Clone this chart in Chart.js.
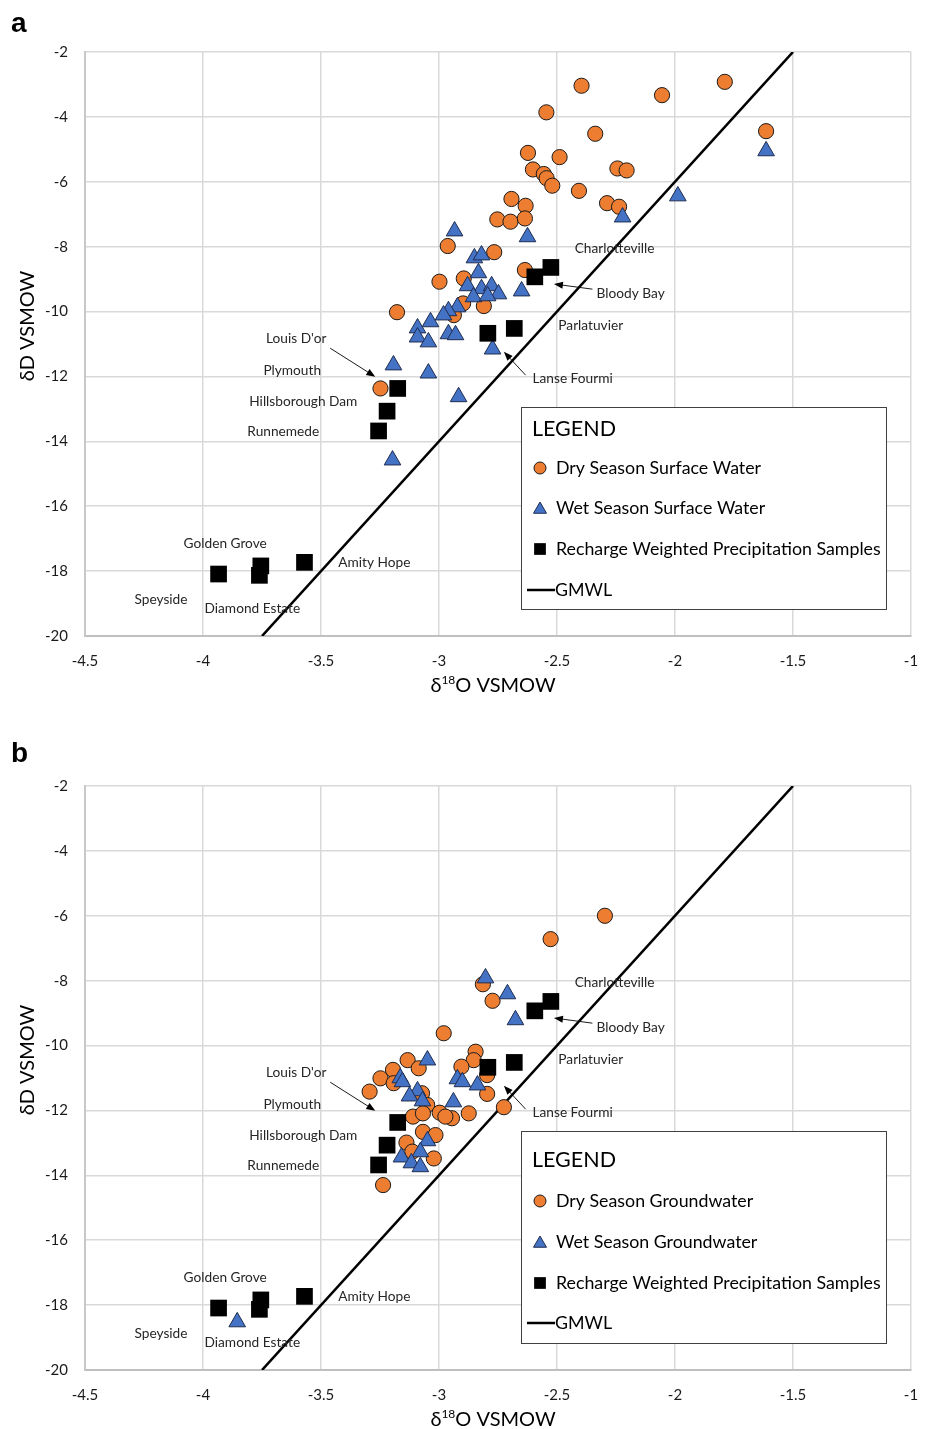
<!DOCTYPE html>
<html><head><meta charset="utf-8">
<script src="https://cdn.jsdelivr.net/npm/chart.js@4.4.1/dist/chart.umd.min.js"></script>
<style>
html,body{margin:0;padding:0;background:#fff;overflow:hidden;width:933px;height:1429px;}
.panel{position:absolute;left:0;width:933px;height:715px;}
.lbl{position:absolute;font:bold 28px "Liberation Sans",Arial,sans-serif;color:#000;line-height:1;}
</style></head><body>
<div class="panel" style="top:0"><canvas id="ca" width="933" height="715"></canvas></div>
<div class="panel" style="top:734px"><canvas id="cb" width="933" height="715"></canvas></div>
<div class="lbl" style="left:11px;top:9px">a</div>
<div class="lbl" style="left:11px;top:739px">b</div>
<script>
// ---------- DATA ----------
const xTickVals = [-4.5, -4, -3.5, -3, -2.5, -2, -1.5, -1];
const yTickVals = [-20, -18, -16, -14, -12, -10, -8, -6, -4, -2];

// Panel a: Dry season surface water
const dryAX = [-2.396,-1.789,-2.055,-2.545,-1.614,-2.338,-2.623,-2.489,-2.602,-2.556,-2.544,-2.520,-2.244,-2.205,-2.407,-2.693,-2.633,-2.288,-2.237,-2.753,-2.697,-2.636,-2.963,-2.766,-2.636,-2.998,-2.895,-3.178,-2.810,-2.898,-2.937,-3.248];
const dryAY = [-3.04,-2.92,-3.33,-3.86,-4.44,-4.52,-5.11,-5.24,-5.62,-5.76,-5.89,-6.12,-5.59,-5.65,-6.28,-6.53,-6.74,-6.66,-6.77,-7.16,-7.23,-7.13,-7.98,-8.17,-8.72,-9.08,-8.98,-10.02,-9.83,-9.75,-10.11,-12.37];
// Panel a: Wet season surface water
const wetAX = [-1.614,-1.988,-2.222,-2.934,-2.625,-2.850,-2.820,-2.833,-2.879,-2.820,-2.777,-2.748,-2.650,-2.854,-2.794,-2.922,-2.960,-2.981,-3.036,-3.091,-3.091,-3.045,-2.960,-2.930,-2.773,-3.193,-3.045,-2.917,-3.197];
const wetAY = [-5.05,-6.44,-7.09,-7.52,-7.70,-8.35,-8.26,-8.81,-9.21,-9.30,-9.21,-9.46,-9.37,-9.55,-9.52,-9.86,-9.98,-10.11,-10.32,-10.51,-10.79,-10.94,-10.69,-10.72,-11.16,-11.65,-11.90,-12.63,-14.58];
// Panel b: Dry season groundwater
const dryBX = [-2.297,-2.527,-2.814,-2.773,-2.980,-2.845,-2.853,-2.905,-2.796,-2.796,-2.725,-3.133,-3.086,-3.195,-3.248,-3.192,-3.294,-3.072,-3.050,-3.110,-3.068,-2.997,-2.945,-2.973,-2.874,-3.068,-3.015,-3.138,-3.113,-3.022,-3.237];
const dryBY = [-6.00,-6.72,-8.11,-8.62,-9.62,-10.19,-10.45,-10.65,-10.91,-11.49,-11.90,-10.45,-10.70,-10.75,-11.01,-11.16,-11.42,-11.47,-11.83,-12.19,-12.09,-12.07,-12.24,-12.19,-12.09,-12.66,-12.76,-12.99,-13.27,-13.48,-14.30];
// Panel b: Wet season groundwater
const wetBX = [-2.803,-2.710,-2.676,-3.049,-3.164,-3.155,-3.091,-3.125,-3.070,-2.922,-2.901,-2.837,-2.939,-3.049,-3.079,-3.159,-3.117,-3.079,-3.855];
const wetBY = [-7.92,-8.41,-9.21,-10.45,-11.00,-11.12,-11.40,-11.56,-11.71,-11.03,-11.12,-11.22,-11.74,-12.94,-13.28,-13.44,-13.62,-13.74,-18.52];
// Recharge weighted precipitation samples (both panels)
const rechargeSites = ['Charlotteville','Bloody Bay','Parlatuvier','Lanse Fourmi','Plymouth','Hillsborough Dam','Runnemede','Golden Grove','Speyside','Diamond Estate','Amity Hope'];
const rechargeX = [-2.526,-2.594,-2.681,-2.793,-3.175,-3.220,-3.256,-3.755,-3.934,-3.761,-3.570];
const rechargeY = [-8.64,-8.93,-10.52,-10.67,-12.37,-13.07,-13.68,-17.84,-18.09,-18.13,-17.73];
// Global meteoric water line end points
const gmwlX = [-3.75, -1.5];
const gmwlY = [-20, -2];

const legendA = ['Dry Season Surface Water','Wet Season Surface Water','Recharge Weighted Precipitation Samples','GMWL'];
const legendB = ['Dry Season Groundwater','Wet Season Groundwater','Recharge Weighted Precipitation Samples','GMWL'];

// Site annotations (anchored in data coordinates)
const siteLabelText = ['Charlotteville','Bloody Bay','Parlatuvier','Lanse Fourmi',"Louis D'or",'Plymouth','Hillsborough Dam','Runnemede','Golden Grove','Amity Hope','Speyside','Diamond Estate'];
const siteLabelX = [-2.256,-2.188,-2.357,-2.434,-3.605,-3.622,-3.575,-3.660,-3.906,-3.274,-4.178,-3.791];
const siteLabelY = [-8.07,-9.46,-10.42,-12.08,-10.82,-11.83,-12.76,-13.71,-17.14,-17.75,-18.89,-19.14];
const arrowFrom = [[-2.350,-9.31],[-2.633,-11.96],[-3.461,-11.13]];
const arrowTo   = [[-2.513,-9.15],[-2.725,-11.24],[-3.270,-12.01]];

// ---------- STYLE ----------
const FONT = '"Lato","Open Sans",sans-serif';
const ORANGE = '#ED7D31', BLUE = '#4472C4';

const pts = (xs, ys) => xs.map((x, i) => ({x, y: ys[i]}));

function overlay(legendNames, boxTop, boxH) {
  return {
    id: 'overlay',
    afterDatasetsDraw(chart) {
      const ctx = chart.ctx, xs = chart.scales.x, ys = chart.scales.y, ca = chart.chartArea;
      ctx.save();
      // site labels
      ctx.fillStyle = '#262626';
      ctx.font = '13.7px ' + FONT;
      ctx.textAlign = 'center'; ctx.textBaseline = 'middle';
      siteLabelText.forEach((t, i) => {
        ctx.fillText(t, xs.getPixelForValue(siteLabelX[i]), ys.getPixelForValue(siteLabelY[i]));
      });
      // arrows
      ctx.strokeStyle = '#000'; ctx.fillStyle = '#000'; ctx.lineWidth = 0.9;
      arrowFrom.forEach((f, i) => {
        const x1 = xs.getPixelForValue(f[0]), y1 = ys.getPixelForValue(f[1]);
        const x2 = xs.getPixelForValue(arrowTo[i][0]), y2 = ys.getPixelForValue(arrowTo[i][1]);
        const a = Math.atan2(y2 - y1, x2 - x1), L = 9, W = 3.5;
        ctx.beginPath(); ctx.moveTo(x1, y1);
        ctx.lineTo(x2 - Math.cos(a) * L * 0.8, y2 - Math.sin(a) * L * 0.8); ctx.stroke();
        ctx.beginPath(); ctx.moveTo(x2, y2);
        ctx.lineTo(x2 - Math.cos(a) * L - Math.sin(a) * W, y2 - Math.sin(a) * L + Math.cos(a) * W);
        ctx.lineTo(x2 - Math.cos(a) * L + Math.sin(a) * W, y2 - Math.sin(a) * L - Math.cos(a) * W);
        ctx.closePath(); ctx.fill();
      });
      // legend box
      const bx = ca.left + 436, by = ca.top + boxTop, bw = 365;
      ctx.fillStyle = '#fff';
      ctx.fillRect(bx, by, bw, boxH);
      ctx.strokeStyle = '#404040'; ctx.lineWidth = 1;
      ctx.strokeRect(bx + 0.5, by + 0.5, bw, boxH);
      ctx.fillStyle = '#000'; ctx.textAlign = 'left'; ctx.textBaseline = 'middle';
      ctx.font = '21.5px ' + FONT;
      const rows = boxTop < 350 ? [374, 415, 456, 497, 537] : [377, 416, 456, 497, 538];
      ctx.fillText('LEGEND', bx + 11, ca.top + rows[0]);
      ctx.font = '17.8px ' + FONT;
      const mx = bx + 19, tx = bx + 35;
      // markers
      ctx.fillStyle = ORANGE; ctx.strokeStyle = '#1a1a1a'; ctx.lineWidth = 1;
      Chart.helpers.drawPoint(ctx, {pointStyle: 'circle', radius: 6, rotation: 0, borderWidth: 1}, mx, ca.top + rows[1]);
      ctx.fillStyle = BLUE; ctx.strokeStyle = '#1f2d50';
      Chart.helpers.drawPoint(ctx, {pointStyle: 'triangle', radius: 7.5, rotation: 0, borderWidth: 1}, mx, ca.top + rows[2] + 1.5);
      ctx.fillStyle = '#000'; ctx.strokeStyle = '#000';
      Chart.helpers.drawPoint(ctx, {pointStyle: 'rect', radius: 8.3, rotation: 0, borderWidth: 0}, mx, ca.top + rows[3]);
      ctx.beginPath(); ctx.lineWidth = 2.5; ctx.strokeStyle = '#000';
      ctx.moveTo(bx + 6, ca.top + rows[4]); ctx.lineTo(bx + 34, ca.top + rows[4]); ctx.stroke();
      ctx.fillStyle = '#000';
      legendNames.forEach((n, i) => ctx.fillText(n, i === 3 ? tx - 1 : tx, ca.top + rows[i + 1]));
      ctx.restore();
    },
    afterDraw(chart) {
      const ctx = chart.ctx, ca = chart.chartArea;
      ctx.save();
      ctx.fillStyle = '#000';
      // y axis title
      ctx.font = '20px ' + FONT;
      ctx.textAlign = 'center'; ctx.textBaseline = 'middle';
      ctx.translate(28, (ca.top + ca.bottom) / 2 - 18);
      ctx.rotate(-Math.PI / 2);
      ctx.fillText('\u03B4D VSMOW', 0, 0);
      ctx.restore();
      // x axis title with superscript
      ctx.save();
      ctx.fillStyle = '#000'; ctx.textBaseline = 'alphabetic'; ctx.textAlign = 'left';
      const big = '20px ' + FONT, small = '12px ' + FONT;
      ctx.font = big; const w1 = ctx.measureText('\u03B4').width, w3 = ctx.measureText('O VSMOW').width;
      ctx.font = small; const w2 = ctx.measureText('18').width;
      const total = w1 + w2 + w3;
      let x = 493 - total / 2; const base = ca.bottom + 56;
      ctx.font = big; ctx.fillText('\u03B4', x, base); x += w1;
      ctx.font = small; ctx.fillText('18', x, base - 8); x += w2;
      ctx.font = big; ctx.fillText('O VSMOW', x, base);
      ctx.restore();
    }
  };
}

function build(id, dX, dY, wX, wY, names, boxTop, boxH) {
  return new Chart(document.getElementById(id), {
    type: 'scatter',
    data: {
      datasets: [
        {label: names[3], data: pts(gmwlX, gmwlY), showLine: true, borderColor: '#000', borderWidth: 2.6, pointRadius: 0, order: 4},
        {label: names[0], data: pts(dX, dY), pointStyle: 'circle', pointRadius: 7.6, backgroundColor: ORANGE, borderColor: '#1a1a1a', borderWidth: 1, order: 3},
        {label: names[1], data: pts(wX, wY), pointStyle: 'triangle', pointRadius: 9.6, backgroundColor: BLUE, borderColor: '#1f2d50', borderWidth: 1, order: 2},
        {label: names[2], data: pts(rechargeX, rechargeY), pointStyle: 'rect', pointRadius: 11.8, backgroundColor: '#000', borderColor: '#000', borderWidth: 0, order: 1}
      ]
    },
    options: {
      responsive: false, animation: false, devicePixelRatio: 1,
      layout: {padding: {left: 0, top: 52, right: 22, bottom: 0}},
      plugins: {legend: {display: false}, tooltip: {enabled: false}},
      events: [],
      scales: {
        x: {
          type: 'linear', min: -4.5, max: -1,
          afterBuildTicks: s => { s.ticks = xTickVals.map(v => ({value: v})); },
          afterFit: s => { s.height = 79; s.paddingLeft = 0; s.paddingRight = 0; },
          grid: {color: '#d9d9d9', lineWidth: 1.5, drawTicks: false},
          border: {display: true, color: '#bfbfbf', width: 2},
          ticks: {font: {family: FONT, size: 15}, color: '#1a1a1a', padding: 16, maxRotation: 0, callback: v => String(v)}
        },
        y: {
          type: 'linear', min: -20, max: -2,
          afterBuildTicks: s => { s.ticks = yTickVals.map(v => ({value: v})); },
          afterFit: s => { s.width = 85; s.paddingTop = 0; s.paddingBottom = 0; },
          grid: {color: '#d9d9d9', lineWidth: 1.5, drawTicks: false},
          border: {display: true, color: '#c8c8c8', width: 2},
          ticks: {font: {family: FONT, size: 15}, color: '#1a1a1a', padding: 17, callback: v => String(v)}
        }
      }
    },
    plugins: [overlay(names, boxTop, boxH)]
  });
}

build('ca', dryAX, dryAY, wetAX, wetAY, legendA, 355, 202);
build('cb', dryBX, dryBY, wetBX, wetBY, legendB, 345, 212);
</script>
</body></html>
